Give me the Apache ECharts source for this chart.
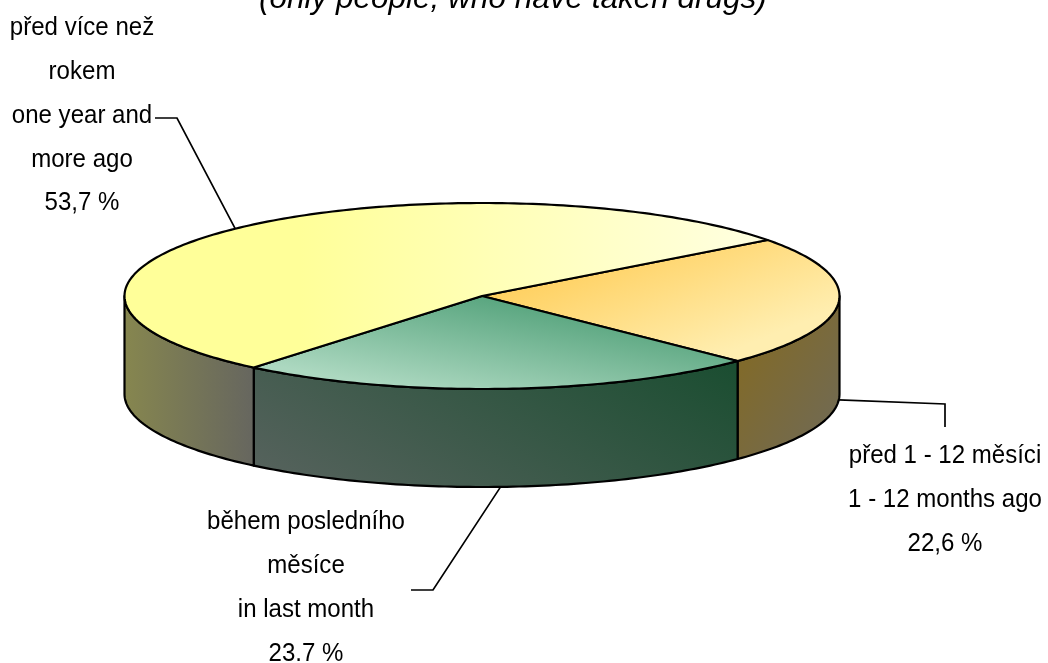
<!DOCTYPE html>
<html>
<head>
<meta charset="utf-8">
<style>
  html, body { margin: 0; padding: 0; background: #fff; }
  #chart { width: 1048px; height: 663px; }
</style>
<script src="https://cdn.jsdelivr.net/npm/echarts@6/dist/echarts.min.js"></script>
</head>
<body>
<div id="chart"></div>
<script>
// data
const categories = ["1 - 12 months ago", "in last month", "one year and more ago"];
const values = [22.6, 23.7, 53.7];
const labelLines = [
  ["před 1 - 12 měsíci", "1 - 12 months ago", "22,6 %"],
  ["během posledního", "měsíce", "in last month", "23.7 %"],
  ["před více než", "rokem", "one year and", "more ago", "53,7 %"],
];
const titleText = "(only people, who have taken drugs)";

// pie geometry
const cx = 482, cy = 296, rx = 357.5, ry = 93, depth = 98;
const startDeg = -37; // clockwise from east, first slice starts here

// label placement: centre x, first line centre y
const labelPos = [[945, 456], [306, 522], [82, 28]];
const lineHeight = 43.8;
const labelScaleX = 0.925; // source font is a condensed Arial
// leader line: elbow then end point, anchor comes from slice mid angle
const leaders = [
  [[945, 404], [945, 427]],
  [[433, 590], [411, 590]],
  [[177, 118], [155, 118]],
];

const grad = (x0, y0, x1, y1, c0, c1) =>
  new echarts.graphic.LinearGradient(x0, y0, x1, y1, [
    { offset: 0, color: c0 },
    { offset: 1, color: c1 },
  ], true);

const topFills = [
  grad(500, 270, 560, 420, "#ffcc55", "#ffeeb0"),
  grad(482, 290, 462, 400, "#55a37c", "#acd8c0"),
  grad(300, 0, 760, 0, "#ffff99", "#ffffe0"),
];
const wallFills = [
  grad(735, 380, 840, 450, "#806a2c", "#6f6a58"),
  grad(730, 370, 563, 650, "#1c4e32", "#55625c"),
  grad(125, 0, 254, 0, "#86864f", "#66665f"),
];

const total = values.reduce((a, b) => a + b, 0);
const ell = (deg, dy) => {
  const t = (deg * Math.PI) / 180;
  return [cx + rx * Math.cos(t), cy + ry * Math.sin(t) + (dy || 0)];
};
const arc = (a0, a1, dy) => {
  const out = [];
  const n = Math.max(2, Math.ceil(Math.abs(a1 - a0)));
  for (let i = 0; i <= n; i++) out.push(ell(a0 + ((a1 - a0) * i) / n, dy));
  return out;
};
const outline = { stroke: "#000", lineWidth: 2.2, lineJoin: "round" };

function renderSlice(params, api) {
  const i = params.dataIndex;
  let before = 0;
  for (let k = 0; k < i; k++) before += values[k];
  const a0 = startDeg + (before / total) * 360;
  const a1 = a0 + (api.value(0) / total) * 360;
  const mid = (a0 + a1) / 2;
  const children = [];

  // side wall, only the part facing the viewer (0..180 deg)
  const w0 = Math.max(a0, 0), w1 = Math.min(a1, 180);
  if (w1 > w0) {
    children.push({
      type: "polygon",
      shape: { points: arc(w0, w1, 0).concat(arc(w1, w0, depth)) },
      style: Object.assign({ fill: wallFills[i] }, outline),
      z2: 1,
    });
  }
  // top face
  children.push({
    type: "polygon",
    shape: { points: [[cx, cy]].concat(arc(a0, a1, 0)) },
    style: Object.assign({ fill: topFills[i] }, outline),
    z2: 2,
  });
  // leader line
  const anchor = ell(mid, mid > 0 && mid < 180 ? depth : 0);
  children.push({
    type: "polyline",
    shape: { points: [anchor].concat(leaders[i]) },
    style: { stroke: "#000", lineWidth: 1.7, fill: null },
    z2: 3,
  });
  // label text
  labelLines[i].forEach((txt, k) => {
    children.push({
      type: "text",
      x: labelPos[i][0],
      y: labelPos[i][1] + k * lineHeight,
      scaleX: labelScaleX,
      style: {
        text: txt,
        x: 0,
        y: 0,
        align: "center",
        verticalAlign: "middle",
        fill: "#000",
        font: '26px "Liberation Sans", Arial, sans-serif',
      },
      z2: 4,
    });
  });
  return { type: "group", children };
}

const chart = echarts.init(document.getElementById("chart"), null, { renderer: "canvas" });
chart.setOption({
  backgroundColor: "#fff",
  animation: false,
  graphic: [
    {
      type: "text",
      left: 259,
      top: -17,
      style: {
        text: titleText,
        fill: "#000",
        font: 'italic 31.5px "Liberation Sans", Arial, sans-serif',
      },
    },
  ],
  series: [
    {
      type: "custom",
      coordinateSystem: "none",
      renderItem: renderSlice,
      silent: true,
      data: values.map((v, i) => ({ name: categories[i], value: [v] })),
    },
  ],
});
</script>
</body>
</html>
